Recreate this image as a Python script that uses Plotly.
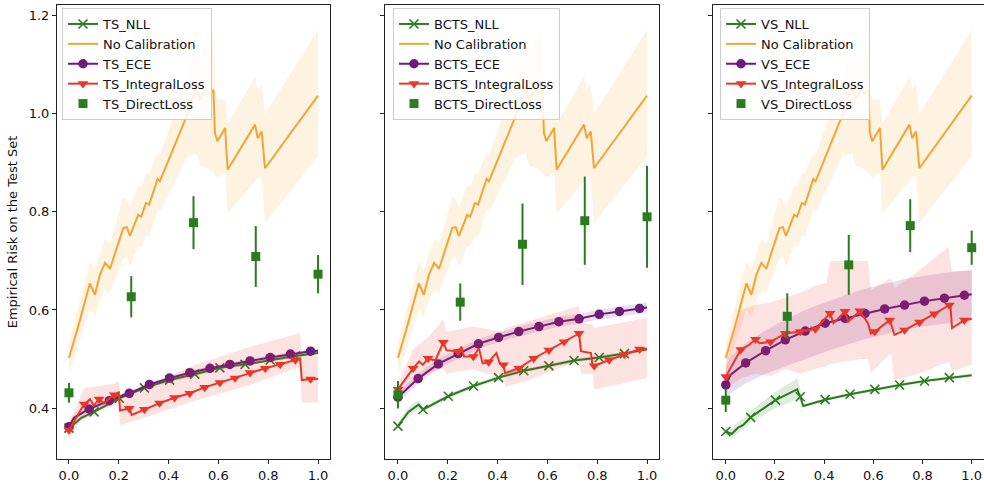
import plotly.graph_objects as go

# ---------------- data ----------------
# No Calibration (same in every panel)
NC_x = [0.000, 0.037, 0.084, 0.104, 0.124, 0.145, 0.165, 0.218, 0.232, 0.245, 0.278, 0.290, 0.309, 0.322, 0.356, 0.365,
        0.472, 0.513, 0.526, 0.553, 0.566, 0.580, 0.586, 0.596, 0.627, 0.637, 0.747, 0.758, 0.774, 0.787, 1.000]
NC_y = [0.502, 0.566, 0.654, 0.631, 0.671, 0.696, 0.684, 0.767, 0.769, 0.751, 0.794, 0.790, 0.818, 0.815, 0.867, 0.862,
        0.995, 1.056, 1.029, 1.050, 1.040, 1.049, 0.961, 0.944, 0.971, 0.886, 0.978, 0.950, 0.964, 0.889, 1.037]
NC_lo = [0.470, 0.525, 0.600, 0.585, 0.620, 0.640, 0.635, 0.705, 0.710, 0.688, 0.730, 0.728, 0.752, 0.750, 0.805, 0.800,
         0.910, 0.920, 0.893, 0.890, 0.885, 0.880, 0.875, 0.870, 0.880, 0.797, 0.862, 0.872, 0.870, 0.777, 0.913]
NC_hi = [0.530, 0.605, 0.700, 0.680, 0.715, 0.745, 0.735, 0.830, 0.825, 0.810, 0.855, 0.850, 0.878, 0.880, 0.920, 0.915,
         1.070, 1.140, 1.120, 1.160, 1.178, 1.150, 1.050, 1.030, 1.030, 0.980, 1.076, 1.050, 1.060, 1.000, 1.171]

# ---- TS panel ----
TS_NLL_x = [0, 0.05, 0.101, 0.202, 0.303, 0.404, 0.505, 0.606, 0.707, 0.808, 0.909, 1.0]
TS_NLL_y = [0.359, 0.380, 0.392, 0.420, 0.441, 0.457, 0.469, 0.482, 0.489, 0.498, 0.506, 0.512]
TS_NLL_lo = [0.355, 0.375, 0.388, 0.416, 0.437, 0.453, 0.465, 0.478, 0.485, 0.494, 0.502, 0.508]
TS_NLL_hi = [0.363, 0.385, 0.396, 0.424, 0.445, 0.461, 0.473, 0.486, 0.493, 0.502, 0.510, 0.516]

TS_ECE_x = [0, 0.02, 0.081, 0.162, 0.242, 0.323, 0.404, 0.485, 0.566, 0.646, 0.727, 0.808, 0.889, 0.970, 1.0]
TS_ECE_y = [0.362, 0.380, 0.398, 0.415, 0.430, 0.448, 0.461, 0.472, 0.481, 0.489, 0.496, 0.503, 0.510, 0.516, 0.517]
TS_ECE_lo = [0.358, 0.375, 0.394, 0.411, 0.426, 0.444, 0.457, 0.468, 0.477, 0.485, 0.492, 0.499, 0.506, 0.512, 0.513]
TS_ECE_hi = [0.366, 0.385, 0.402, 0.419, 0.434, 0.452, 0.465, 0.476, 0.485, 0.493, 0.500, 0.507, 0.514, 0.520, 0.521]

TS_IL_x = [0, 0.061, 0.085, 0.100, 0.121, 0.140, 0.182, 0.200, 0.205, 0.242, 0.252, 0.303, 0.364, 0.424, 0.485, 0.545,
           0.606, 0.667, 0.727, 0.788, 0.848, 0.909, 0.928, 0.935, 0.970, 1.0]
TS_IL_y = [0.355, 0.408, 0.418, 0.405, 0.418, 0.410, 0.427, 0.432, 0.395, 0.399, 0.386, 0.397, 0.410, 0.421, 0.430, 0.442,
           0.452, 0.461, 0.472, 0.481, 0.489, 0.498, 0.501, 0.457, 0.459, 0.459]
TS_IL_bx = [0, 0.061, 0.121, 0.182, 0.200, 0.205, 0.303, 0.485, 0.727, 0.928, 0.935, 1.0]
TS_IL_lo = [0.340, 0.385, 0.395, 0.405, 0.410, 0.365, 0.380, 0.412, 0.447, 0.484, 0.410, 0.412]
TS_IL_hi = [0.370, 0.441, 0.445, 0.450, 0.455, 0.427, 0.440, 0.484, 0.525, 0.553, 0.505, 0.507]

TS_DL_x = [0, 0.25, 0.5, 0.75, 1.0]
TS_DL_y = [0.431, 0.627, 0.778, 0.709, 0.673]
TS_DL_err = [0.020, 0.042, 0.054, 0.062, 0.039]

# ---- BCTS panel ----
BCTS_NLL_x = [0, 0.042, 0.083, 0.101, 0.202, 0.303, 0.404, 0.505, 0.606, 0.707, 0.808, 0.909, 1.0]
BCTS_NLL_y = [0.363, 0.392, 0.407, 0.397, 0.424, 0.445, 0.462, 0.476, 0.486, 0.497, 0.503, 0.511, 0.520]
BCTS_NLL_lo = [0.358, 0.382, 0.398, 0.392, 0.420, 0.441, 0.458, 0.472, 0.482, 0.493, 0.499, 0.507, 0.516]
BCTS_NLL_hi = [0.368, 0.402, 0.416, 0.402, 0.428, 0.449, 0.466, 0.480, 0.490, 0.501, 0.507, 0.515, 0.524]

BCTS_ECE_x = [0, 0.081, 0.162, 0.242, 0.323, 0.404, 0.485, 0.566, 0.646, 0.727, 0.808, 0.889, 0.970, 1.0]
BCTS_ECE_y = [0.422, 0.460, 0.490, 0.511, 0.531, 0.544, 0.556, 0.566, 0.576, 0.582, 0.591, 0.597, 0.603, 0.605]
BCTS_ECE_lo = [0.412, 0.450, 0.480, 0.501, 0.521, 0.534, 0.546, 0.556, 0.566, 0.572, 0.581, 0.587, 0.593, 0.595]
BCTS_ECE_hi = [0.432, 0.470, 0.500, 0.521, 0.541, 0.554, 0.566, 0.576, 0.586, 0.592, 0.601, 0.607, 0.613, 0.615]

BCTS_IL_x = [0, 0.061, 0.085, 0.100, 0.121, 0.150, 0.182, 0.195, 0.242, 0.255, 0.265, 0.303, 0.325, 0.340, 0.364, 0.395,
             0.410, 0.424, 0.430, 0.485, 0.545, 0.606, 0.667, 0.727, 0.735, 0.775, 0.782, 0.788, 0.848, 0.909, 0.970, 1.0]
BCTS_IL_y = [0.438, 0.481, 0.495, 0.488, 0.501, 0.497, 0.534, 0.518, 0.515, 0.525, 0.505, 0.505, 0.522, 0.491, 0.494, 0.512,
             0.490, 0.488, 0.471, 0.481, 0.501, 0.518, 0.535, 0.552, 0.516, 0.512, 0.484, 0.486, 0.498, 0.509, 0.520, 0.521]
BCTS_IL_bx = [0, 0.061, 0.121, 0.182, 0.195, 0.242, 0.303, 0.364, 0.424, 0.430, 0.545, 0.727, 0.735, 0.782, 0.788, 1.0]
BCTS_IL_lo = [0.425, 0.450, 0.470, 0.480, 0.470, 0.475, 0.478, 0.470, 0.465, 0.443, 0.460, 0.498, 0.470, 0.470, 0.438, 0.461]
BCTS_IL_hi = [0.450, 0.520, 0.545, 0.580, 0.555, 0.560, 0.566, 0.560, 0.555, 0.563, 0.580, 0.608, 0.575, 0.570, 0.563, 0.584]

BCTS_DL_x = [0, 0.25, 0.5, 0.75, 1.0]
BCTS_DL_y = [0.427, 0.616, 0.734, 0.782, 0.790]
BCTS_DL_err = [0.028, 0.038, 0.083, 0.090, 0.104]

# ---- VS panel ----
VS_NLL_x = [0, 0.024, 0.050, 0.070, 0.101, 0.202, 0.290, 0.303, 0.315, 0.404, 0.505, 0.606, 0.707, 0.808, 0.909, 1.0]
VS_NLL_y = [0.352, 0.347, 0.360, 0.365, 0.381, 0.416, 0.438, 0.423, 0.404, 0.417, 0.428, 0.438, 0.447, 0.455, 0.462, 0.467]
VS_NLL_lo = [0.343, 0.338, 0.350, 0.355, 0.370, 0.400, 0.418, 0.414, 0.401, 0.414, 0.425, 0.435, 0.444, 0.452, 0.459, 0.464]
VS_NLL_hi = [0.362, 0.358, 0.372, 0.378, 0.394, 0.433, 0.460, 0.440, 0.407, 0.420, 0.431, 0.441, 0.450, 0.458, 0.465, 0.470]

VS_ECE_x = [0, 0.02, 0.081, 0.162, 0.242, 0.323, 0.404, 0.485, 0.566, 0.646, 0.727, 0.808, 0.889, 0.970, 1.0]
VS_ECE_y = [0.447, 0.468, 0.492, 0.517, 0.539, 0.557, 0.573, 0.583, 0.593, 0.602, 0.610, 0.618, 0.624, 0.630, 0.632]
VS_ECE_lo = [0.416, 0.430, 0.450, 0.470, 0.485, 0.500, 0.515, 0.528, 0.540, 0.550, 0.560, 0.567, 0.572, 0.577, 0.578]
VS_ECE_hi = [0.480, 0.505, 0.532, 0.558, 0.580, 0.600, 0.615, 0.630, 0.643, 0.653, 0.663, 0.670, 0.676, 0.680, 0.682]

VS_IL_x = [0, 0.061, 0.076, 0.096, 0.121, 0.137, 0.182, 0.242, 0.303, 0.364, 0.424, 0.438, 0.485, 0.498, 0.545, 0.578,
           0.590, 0.606, 0.667, 0.686, 0.727, 0.788, 0.848, 0.909, 0.913, 0.920, 0.970, 1.0]
VS_IL_y = [0.464, 0.519, 0.523, 0.529, 0.540, 0.532, 0.535, 0.552, 0.556, 0.561, 0.593, 0.573, 0.597, 0.576, 0.598, 0.573,
           0.552, 0.556, 0.579, 0.549, 0.559, 0.575, 0.592, 0.610, 0.612, 0.563, 0.579, 0.582]
VS_IL_bx = [0, 0.061, 0.121, 0.182, 0.242, 0.303, 0.364, 0.410, 0.424, 0.545, 0.578, 0.590, 0.672, 0.686, 0.786, 0.906, 0.920, 1.0]
VS_IL_lo = [0.440, 0.460, 0.470, 0.465, 0.480, 0.470, 0.480, 0.485, 0.490, 0.500, 0.500, 0.471, 0.512, 0.457, 0.470, 0.495, 0.475, 0.488]
VS_IL_hi = [0.490, 0.600, 0.610, 0.615, 0.625, 0.635, 0.650, 0.655, 0.700, 0.700, 0.700, 0.640, 0.665, 0.645, 0.680, 0.729, 0.679, 0.680]

VS_DL_x = [0, 0.25, 0.5, 0.75, 1.0]
VS_DL_y = [0.416, 0.587, 0.692, 0.772, 0.727]
VS_DL_err = [0.024, 0.047, 0.061, 0.054, 0.035]

PREFIXES = ["TS", "BCTS", "VS"]
X_TICKS = [0.0, 0.2, 0.4, 0.6, 0.8, 1.0]
Y_TICKS = [0.4, 0.6, 0.8, 1.0, 1.2]

# ---------------- styles ----------------
GREEN = "#2b7b1f"
ORANGE = "#f0a535"
PURPLE = "#6c1a7e"
RED = "#ea3527"
GREEN_F = "rgba(43,123,31,0.15)"
ORANGE_F = "rgba(245,166,45,0.15)"
PURPLE_F = "rgba(108,26,126,0.15)"
RED_F = "rgba(234,53,39,0.14)"
FONT = "DejaVu Sans"
TXT = "#111"

fig = go.Figure()


def grid(step):
    return {round(i / 99, 3) for i in range(0, 100, step)}


def add_band(x, lo, hi, color, k):
    fig.add_trace(go.Scatter(
        x=list(x) + list(x)[::-1], y=list(hi) + list(lo)[::-1],
        fill="toself", fillcolor=color, mode="lines", line=dict(width=0),
        hoverinfo="skip", showlegend=False, xaxis=f"x{k}", yaxis=f"y{k}"))


def add_line(x, y, color, k, symbol=None, step=None, msize=8, mline=None):
    fig.add_trace(go.Scatter(x=x, y=y, mode="lines", line=dict(color=color, width=2),
                             showlegend=False, xaxis=f"x{k}", yaxis=f"y{k}"))
    if symbol:
        g = grid(step)
        mx = [a for a in x if round(a, 3) in g]
        my = [b for a, b in zip(x, y) if round(a, 3) in g]
        mk = dict(color=color, size=msize, symbol=symbol)
        if mline:
            mk["line"] = mline
        fig.add_trace(go.Scatter(x=mx, y=my, mode="markers", marker=mk,
                                 showlegend=False, xaxis=f"x{k}", yaxis=f"y{k}"))


panels = [
    (TS_NLL_x, TS_NLL_y, TS_NLL_lo, TS_NLL_hi, TS_ECE_x, TS_ECE_y, TS_ECE_lo, TS_ECE_hi,
     TS_IL_x, TS_IL_y, TS_IL_bx, TS_IL_lo, TS_IL_hi, TS_DL_x, TS_DL_y, TS_DL_err),
    (BCTS_NLL_x, BCTS_NLL_y, BCTS_NLL_lo, BCTS_NLL_hi, BCTS_ECE_x, BCTS_ECE_y, BCTS_ECE_lo, BCTS_ECE_hi,
     BCTS_IL_x, BCTS_IL_y, BCTS_IL_bx, BCTS_IL_lo, BCTS_IL_hi, BCTS_DL_x, BCTS_DL_y, BCTS_DL_err),
    (VS_NLL_x, VS_NLL_y, VS_NLL_lo, VS_NLL_hi, VS_ECE_x, VS_ECE_y, VS_ECE_lo, VS_ECE_hi,
     VS_IL_x, VS_IL_y, VS_IL_bx, VS_IL_lo, VS_IL_hi, VS_DL_x, VS_DL_y, VS_DL_err),
]

XMARK = dict(color=GREEN, width=1.6)

for i, p in enumerate(panels):
    k = "" if i == 0 else str(i + 1)
    (nx, ny, nlo, nhi, ex, ey, elo, ehi, ix, iy, ibx, ilo, ihi, dx, dy, derr) = p
    pre = PREFIXES[i]
    leg = "legend" if i == 0 else f"legend{i + 1}"

    # bands and lines
    add_band(nx, nlo, nhi, GREEN_F, k)
    add_line(nx, ny, GREEN, k, "x-thin", 10, 9, XMARK)
    add_band(NC_x, NC_lo, NC_hi, ORANGE_F, k)
    add_line(NC_x, NC_y, ORANGE, k)
    add_band(ex, elo, ehi, PURPLE_F, k)
    add_line(ex, ey, PURPLE, k, "circle", 8, 9.5)
    add_band(ibx, ilo, ihi, RED_F, k)
    add_line(ix, iy, RED, k, "triangle-down", 6, 9.5)
    fig.add_trace(go.Scatter(x=dx, y=dy, mode="markers",
                             marker=dict(color=GREEN, size=9, symbol="square"),
                             error_y=dict(type="data", array=derr, color=GREEN, thickness=2, width=0),
                             showlegend=False, xaxis=f"x{k}", yaxis=f"y{k}"))

    # legend entries
    entries = [
        (f"{pre}_NLL", "lines+markers", GREEN, dict(symbol="x-thin", size=9, color=GREEN, line=XMARK)),
        ("No Calibration", "lines", ORANGE, None),
        (f"{pre}_ECE", "lines+markers", PURPLE, dict(symbol="circle", size=9.5, color=PURPLE)),
        (f"{pre}_IntegralLoss", "lines+markers", RED, dict(symbol="triangle-down", size=9.5, color=RED)),
        (f"{pre}_DirectLoss", "markers", GREEN, dict(symbol="square", size=9, color=GREEN)),
    ]
    for name, mode, col, mk in entries:
        kw = dict(x=[None], y=[None], mode=mode, name=name, legend=leg,
                  line=dict(color=col, width=2), xaxis=f"x{k}", yaxis=f"y{k}")
        if mk:
            kw["marker"] = mk
        fig.add_trace(go.Scatter(**kw))

W, H = 984, 486
L, R, T, B = 57, 0, 5, 27
pw, ph = W - L - R, H - T - B
frames = [(57, 330), (385, 659), (713, 984)]
xranges = [[-0.048, 1.048], [-0.052, 1.048], [-0.052, 1.05]]
legend_left = [62, 393, 720]

axis_common = dict(showgrid=False, zeroline=False, showline=True, linecolor="#222", linewidth=1,
                   mirror=True, ticks="outside", ticklen=4, tickwidth=1, tickcolor="#222",
                   tickfont=dict(family=FONT, size=13, color=TXT))

layout = dict(
    width=W, height=H, margin=dict(l=L, r=R, t=T, b=B),
    plot_bgcolor="white", paper_bgcolor="white",
    font=dict(family=FONT, size=13, color=TXT),
)
for i in range(3):
    k = "" if i == 0 else str(i + 1)
    d0 = (frames[i][0] - L) / pw
    d1 = min(1.0, (frames[i][1] - L) / pw)
    layout[f"xaxis{k}"] = dict(axis_common, domain=[d0, d1], range=xranges[i],
                               tickvals=X_TICKS, tickformat=".1f", anchor=f"y{k}",
                               ticklabeloverflow="allow")
    ya = dict(axis_common, range=[0.296, 1.222], tickvals=Y_TICKS, tickformat=".1f",
              anchor=f"x{k}", domain=[0, 1])
    if i == 0:
        ya["title"] = dict(text="Empirical Risk on the Test Set", font=dict(family=FONT, size=13, color=TXT),
                           standoff=8)
    else:
        ya["matches"] = "y"
        ya["showticklabels"] = False
    layout[f"yaxis{k}"] = ya
    legname = "legend" if i == 0 else f"legend{i + 1}"
    layout[legname] = dict(x=(legend_left[i] - L) / pw, y=1 - (8 - T) / ph, xanchor="left", yanchor="top",
                           bgcolor="rgba(255,255,255,0.85)", bordercolor="#cccccc", borderwidth=1,
                           font=dict(family=FONT, size=13, color=TXT), tracegroupgap=0)

fig.update_layout(**layout)
fig.write_html("out.html")
